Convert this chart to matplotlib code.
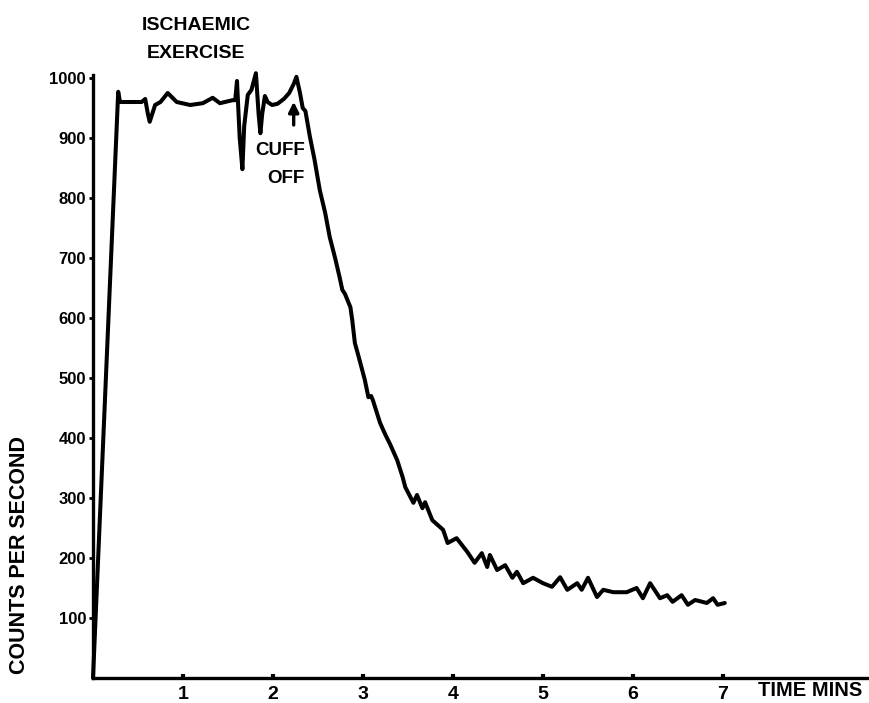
import matplotlib
matplotlib.use("Agg")
import matplotlib.pyplot as plt

# ---- data ----
time_min = [0.00, 0.28, 0.30, 0.41, 0.54, 0.58, 0.61, 0.63, 0.69, 0.75, 0.83, 0.93,
            1.08, 1.22, 1.33, 1.41, 1.55, 1.58, 1.60, 1.63, 1.66, 1.68, 1.72, 1.76,
            1.81, 1.84, 1.86, 1.88, 1.91, 1.94, 1.99, 2.05, 2.12, 2.18, 2.23, 2.26,
            2.30, 2.33, 2.36, 2.41, 2.46, 2.52, 2.58, 2.63, 2.69, 2.74, 2.77, 2.80,
            2.86, 2.88, 2.91, 2.94, 3.02, 3.06, 3.09, 3.11, 3.19, 3.25, 3.30, 3.38,
            3.44, 3.47, 3.56, 3.60, 3.66, 3.69, 3.77, 3.89, 3.94, 4.04, 4.16, 4.24,
            4.32, 4.38, 4.41, 4.49, 4.58, 4.66, 4.71, 4.78, 4.89, 5.00, 5.10, 5.19,
            5.27, 5.38, 5.43, 5.50, 5.60, 5.67, 5.78, 5.93, 6.04, 6.11, 6.19, 6.30,
            6.38, 6.44, 6.54, 6.61, 6.69, 6.77, 6.82, 6.89, 6.94, 7.02]
counts = [0, 977, 960, 960, 960, 965, 940, 927, 955, 960, 975, 960,
          955, 958, 967, 958, 963, 963, 995, 900, 848, 920, 972, 980,
          1008, 940, 908, 940, 970, 960, 955, 957, 965, 975, 990, 1002,
          975, 950, 945, 902, 865, 813, 775, 735, 700, 668, 647, 640,
          618, 597, 558, 542, 497, 468, 470, 463, 425, 405, 390, 363,
          335, 318, 292, 305, 283, 293, 263, 247, 225, 233, 210, 192,
          208, 185, 205, 180, 188, 167, 177, 158, 167, 158, 152, 168,
          147, 158, 147, 167, 135, 147, 143, 143, 150, 133, 158, 133,
          138, 127, 138, 122, 130, 127, 125, 133, 122, 125]

y_ticks = [100, 200, 300, 400, 500, 600, 700, 800, 900, 1000]
x_ticks = [1, 2, 3, 4, 5, 6, 7]

FONT = "Liberation Sans"

fig = plt.figure(figsize=(8.69, 7.03), dpi=100)
ax = fig.add_axes([93 / 869, 25 / 703, 774 / 869, 609 / 703])
ax.set_xlim(0, 8.6)
ax.set_ylim(0, 1015)

ax.plot(time_min, counts, color="black", lw=2.9, solid_joinstyle="round",
        solid_capstyle="round", clip_on=False)

for s in ["top", "right"]:
    ax.spines[s].set_visible(False)
for s in ["left", "bottom"]:
    ax.spines[s].set_linewidth(2.4)
ax.spines["left"].set_bounds(0, 1005)

ax.set_yticks(y_ticks)
ax.set_yticklabels([str(v) for v in y_ticks], fontfamily=FONT,
                   fontweight="bold", fontsize=12)
ax.set_xticks(x_ticks)
ax.set_xticklabels([str(v) for v in x_ticks], fontfamily=FONT,
                   fontweight="bold", fontsize=14)
ax.tick_params(axis="y", direction="out", length=3, width=2, pad=2)
ax.tick_params(axis="x", direction="in", length=3, width=3, pad=6)

ax.set_ylabel("COUNTS PER SECOND", fontfamily=FONT, fontweight="bold",
              fontsize=15.5, labelpad=0)
ax.yaxis.set_label_coords(-0.081, 0.202)

fig.text(810 / 869, 1 - 690 / 703, "TIME MINS", fontfamily=FONT,
         fontweight="bold", fontsize=14.5, ha="center", va="center")

fig.text(196 / 869, 1 - 25 / 703, "ISCHAEMIC", fontfamily=FONT,
         fontweight="bold", fontsize=14, ha="center", va="center")
fig.text(196 / 869, 1 - 53 / 703, "EXERCISE", fontfamily=FONT,
         fontweight="bold", fontsize=14, ha="center", va="center")

ax.annotate("", xy=(2.23, 965), xytext=(2.23, 917),
            arrowprops=dict(arrowstyle="-|>", color="black", lw=2.4,
                            mutation_scale=15))
ax.text(2.35, 879, "CUFF", fontfamily=FONT, fontweight="bold", fontsize=13.5,
        ha="right", va="center")
ax.text(2.35, 833, "OFF", fontfamily=FONT, fontweight="bold", fontsize=13.5,
        ha="right", va="center")

fig.savefig("out.png", dpi=100)
